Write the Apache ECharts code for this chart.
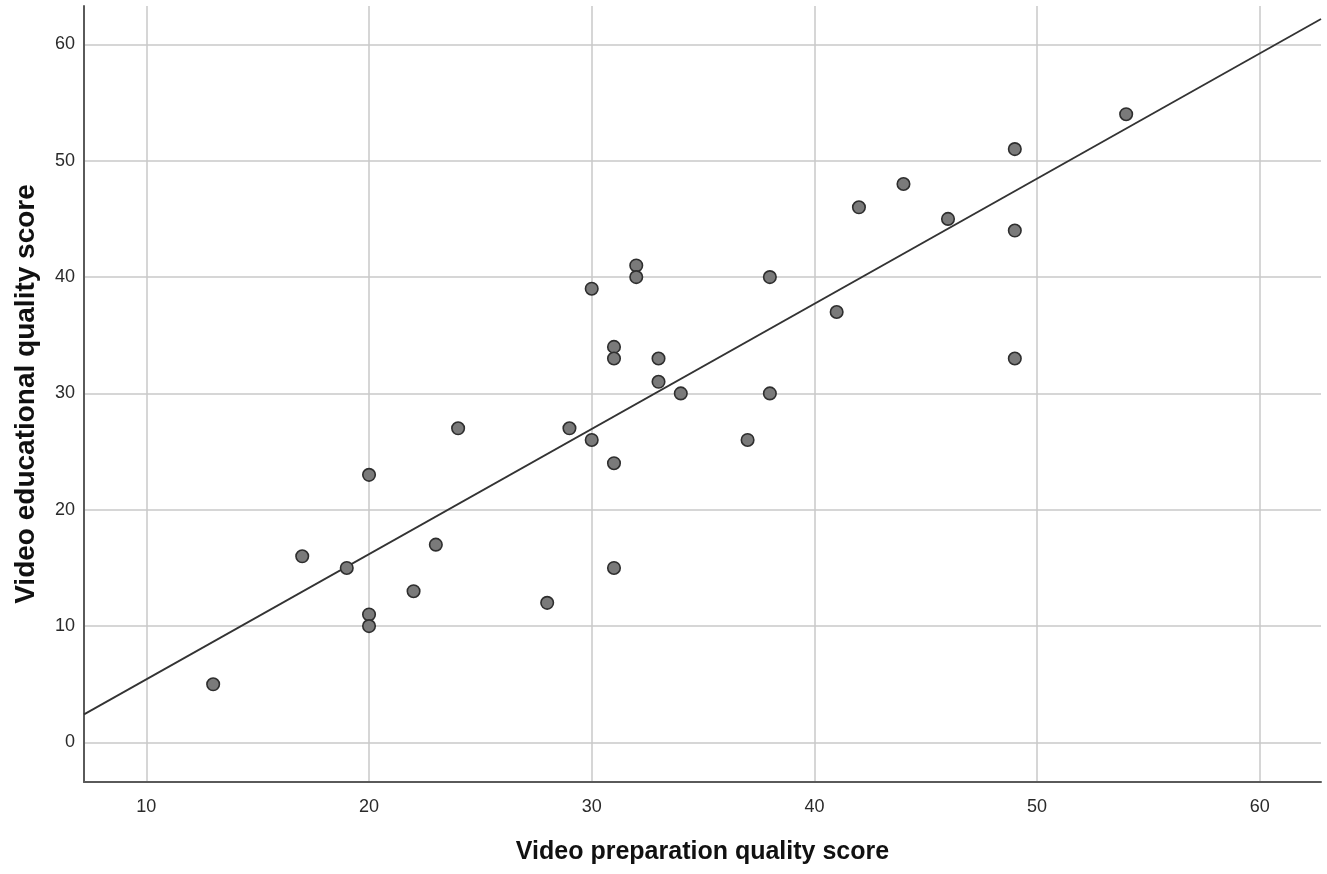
<!DOCTYPE html>
<html>
<head>
<meta charset="utf-8">
<script src="https://cdn.jsdelivr.net/npm/echarts@6/dist/echarts.min.js"></script>
<style>
html,body{margin:0;padding:0;background:#fff;}
#chart{width:1327px;height:874px;}
</style>
</head>
<body>
<div id="chart"></div>
<script>
// Video preparation quality score (x) vs Video educational quality score (y)
const prepScores = [13,17,19,20,20,20,22,23,24,28,29,30,30,31,31,31,31,32,32,33,33,34,37,38,38,41,42,44,46,49,49,49,54];
const eduScores  = [5,16,15,23,11,10,13,17,27,12,27,39,26,34,33,24,15,41,40,33,31,30,26,40,30,37,46,48,45,51,44,33,54];
// Fit line endpoints (at the axis edges)
const fitX = [7.2, 62.75];
const fitY = [2.41, 62.18];
const xTitle = 'Video preparation quality score';
const yTitle = 'Video educational quality score';

const points = prepScores.map((x, i) => [x, eduScores[i]]);
const fitLine = fitX.map((x, i) => [x, fitY[i]]);

const chart = echarts.init(document.getElementById('chart'), null, {renderer: 'canvas'});
const font = '"Liberation Sans", Arial, sans-serif';
chart.setOption({
  animation: false,
  backgroundColor: '#ffffff',
  grid: {left: 84, right: 6, top: 6, bottom: 92, containLabel: false},
  xAxis: {
    type: 'value', min: 7.2, max: 62.75, minInterval: 10, maxInterval: 10,
    name: xTitle, nameLocation: 'middle', nameGap: 58,
    nameTextStyle: {fontFamily: font, fontSize: 25, fontWeight: 'bold', color: '#111'},
    axisLine: {show: true, onZero: false, lineStyle: {color: '#5a5a5a', width: 2}},
    axisTick: {show: false},
    axisLabel: {fontFamily: font, fontSize: 18, color: '#2a2a2a', margin: 16, showMinLabel: false, showMaxLabel: false},
    splitLine: {show: true, showMinLine: false, showMaxLine: false, lineStyle: {color: '#c8c8c8', width: 1.5}}
  },
  yAxis: {
    type: 'value', min: -3.4, max: 63.3, minInterval: 10, maxInterval: 10,
    name: yTitle, nameLocation: 'middle', nameGap: 44, nameRotate: 90,
    nameTextStyle: {fontFamily: font, fontSize: 28, fontWeight: 'bold', color: '#111'},
    axisLine: {show: true, onZero: false, lineStyle: {color: '#5a5a5a', width: 2}},
    axisTick: {show: false},
    axisLabel: {fontFamily: font, fontSize: 18, color: '#2a2a2a', margin: 9, showMinLabel: false, showMaxLabel: false},
    splitLine: {show: true, showMinLine: false, showMaxLine: false, lineStyle: {color: '#c8c8c8', width: 1.5}}
  },
  series: [
    {
      type: 'line', data: fitLine, symbol: 'none', silent: true, z: 3,
      lineStyle: {color: '#333', width: 1.8}
    },
    {
      type: 'scatter', data: points, symbol: 'circle', symbolSize: 12.5, z: 4,
      itemStyle: {color: '#7a7a7a', borderColor: '#2e2e2e', borderWidth: 1.6, opacity: 1}
    }
  ]
});
</script>
</body>
</html>
